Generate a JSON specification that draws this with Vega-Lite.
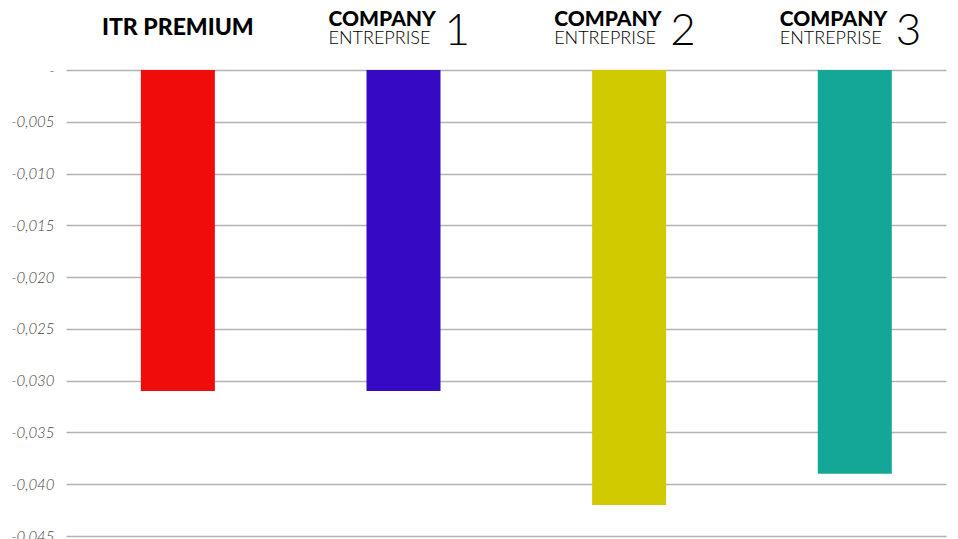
{
  "$schema": "https://vega.github.io/schema/vega-lite/v6.json",
  "width": 880,
  "height": 466,
  "autosize": {"type": "none"},
  "padding": {"left": 66, "top": 70, "right": 12, "bottom": 3},
  "background": "white",
  "config": {"view": {"stroke": null}},
  "data": {
    "values": [
      {"name": "ITR PREMIUM", "value": -0.031, "top": "ITR PREMIUM", "company": "", "sub": "", "num": ""},
      {"name": "COMPANY 1", "value": -0.031, "top": "", "company": "COMPANY", "sub": "ENTREPRISE", "num": "1"},
      {"name": "COMPANY 2", "value": -0.042, "top": "", "company": "COMPANY", "sub": "ENTREPRISE", "num": "2"},
      {"name": "COMPANY 3", "value": -0.039, "top": "", "company": "COMPANY", "sub": "ENTREPRISE", "num": "3"}
    ]
  },
  "encoding": {
    "x": {
      "field": "name",
      "type": "nominal",
      "sort": null,
      "axis": null,
      "scale": {"paddingInner": 0.672, "paddingOuter": 0.286, "align": 0.58}
    }
  },
  "layer": [
    {
      "mark": {"type": "bar"},
      "encoding": {
        "y": {
          "field": "value",
          "type": "quantitative",
          "scale": {"domain": [-0.045, 0], "nice": false, "zero": false},
          "axis": {
            "title": null,
            "values": [0, -0.005, -0.01, -0.015, -0.02, -0.025, -0.03, -0.035, -0.04, -0.045],
            "labelExpr": "datum.value === 0 ? '-' : replace(replace(format(datum.value, '.3f'), '.', ','), '\u2212', '-')",
            "domain": false,
            "ticks": false,
            "grid": true,
            "gridColor": "#b3b3b3",
            "gridWidth": 1.5,
            "labelFont": "Lato",
            "labelFontWeight": 300,
            "labelFontStyle": "italic",
            "labelFontSize": 15,
            "labelColor": "#444444",
            "labelPadding": 12
          }
        },
        "color": {
          "field": "name",
          "type": "nominal",
          "sort": null,
          "legend": null,
          "scale": {"range": ["#F10C0C", "#360AC5", "#D2CA00", "#14A696"]}
        }
      }
    },
    {
      "transform": [{"filter": "datum.top != ''"}],
      "mark": {"type": "text", "font": "Lato", "fontWeight": 900, "fontSize": 23, "baseline": "middle", "align": "center", "dy": -42, "color": "#000000"},
      "encoding": {"y": {"datum": 0}, "text": {"field": "top"}}
    },
    {
      "transform": [{"filter": "datum.company != ''"}],
      "mark": {"type": "text", "font": "Lato", "fontWeight": 900, "fontSize": 21, "baseline": "alphabetic", "align": "left", "dx": -75, "dy": -44, "color": "#000000"},
      "encoding": {"y": {"datum": 0}, "text": {"field": "company"}}
    },
    {
      "transform": [{"filter": "datum.sub != ''"}],
      "mark": {"type": "text", "font": "Lato", "fontWeight": 300, "fontSize": 18, "baseline": "alphabetic", "align": "left", "dx": -75, "dy": -26, "color": "#000000"},
      "encoding": {"y": {"datum": 0}, "text": {"field": "sub"}}
    },
    {
      "transform": [{"filter": "datum.num != ''"}],
      "mark": {"type": "text", "font": "Lato", "fontWeight": 300, "fontSize": 44, "baseline": "alphabetic", "align": "left", "dx": 41, "dy": -25, "color": "#000000"},
      "encoding": {"y": {"datum": 0}, "text": {"field": "num"}}
    }
  ]
}
